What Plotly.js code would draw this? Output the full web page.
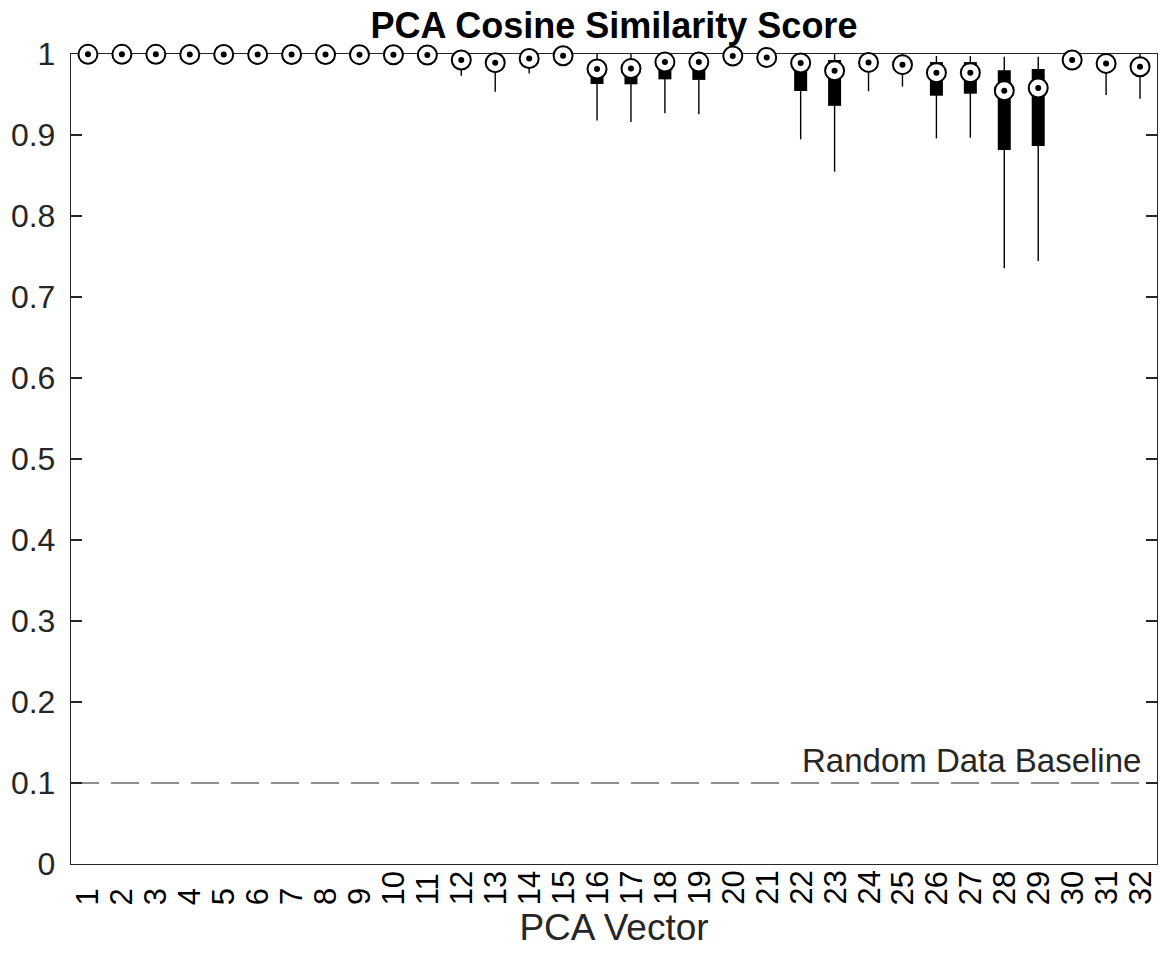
<!DOCTYPE html>
<html>
<head>
<meta charset="utf-8">
<script src="https://cdn.plot.ly/plotly-3.0.1.min.js"></script>
<style>
  html, body { margin: 0; padding: 0; background: #ffffff; }
  #chart { width: 1161px; height: 958px; }
</style>
</head>
<body>
<div id="chart"></div>
<script>
// PCA vector index (1..32)
const vectors = Array.from({length: 32}, (_, i) => i + 1);
const tickLabels = vectors.map(String);

// Box-plot statistics of the cosine similarity score for each PCA vector
const medians = [0.9996, 0.9996, 0.9996, 0.9995, 0.9995, 0.9995, 0.9994, 0.9993, 0.9992, 0.9991, 0.9988,
                 0.9926, 0.9893, 0.9944, 0.9978, 0.9815, 0.9820, 0.9900, 0.9900, 0.9975, 0.9958,
                 0.9889, 0.9794, 0.9896, 0.9868, 0.9770, 0.9770, 0.9547, 0.9580, 0.9926, 0.9884, 0.9843];
const q1 = [0.9993, 0.9993, 0.9992, 0.9991, 0.9991, 0.9990, 0.9989, 0.9988, 0.9987, 0.9985, 0.9982,
            0.9880, 0.9840, 0.9900, 0.9960, 0.9630, 0.9626, 0.9687, 0.9680, 0.9960, 0.9930,
            0.9543, 0.9360, 0.9820, 0.9780, 0.9485, 0.9510, 0.8815, 0.8864, 0.9890, 0.9800, 0.9760];
const q3 = [0.9998, 0.9998, 0.9998, 0.9998, 0.9997, 0.9997, 0.9997, 0.9996, 0.9996, 0.9995, 0.9994,
            0.9960, 0.9940, 0.9970, 0.9990, 0.9910, 0.9910, 0.9960, 0.9960, 0.9990, 0.9980,
            0.9960, 0.9926, 0.9950, 0.9940, 0.9900, 0.9900, 0.9800, 0.9815, 0.9960, 0.9940, 0.9910];
const whiskerLow = [0.9988, 0.9987, 0.9986, 0.9985, 0.9984, 0.9983, 0.9982, 0.9980, 0.9978, 0.9975, 0.9970,
                    0.9730, 0.9535, 0.9760, 0.9920, 0.9180, 0.9160, 0.9267, 0.9255, 0.9910, 0.9880,
                    0.8946, 0.8547, 0.9540, 0.9597, 0.8958, 0.8966, 0.7354, 0.7444, 0.9800, 0.9494, 0.9448];
const whiskerHigh = [1.0, 1.0, 1.0, 1.0, 1.0, 1.0, 1.0, 1.0, 1.0, 1.0, 1.0,
                     1.0, 0.9990, 1.0, 1.0, 1.0, 1.0, 1.0, 1.0, 1.0, 1.0,
                     1.0, 1.0, 1.0, 1.0, 0.9975, 0.9975, 0.9967, 0.9967, 1.0, 1.0, 1.0];

// y-axis ticks
const yTickVals = [0, 0.1, 0.2, 0.3, 0.4, 0.5, 0.6, 0.7, 0.8, 0.9, 1];
const yTickText = ['0', '0.1', '0.2', '0.3', '0.4', '0.5', '0.6', '0.7', '0.8', '0.9', '1'];

// Reference level for similarity of random data
const baselineValue = 0.1;
const baselineLabel = 'Random Data Baseline';

// Build segment paths (x, y pairs separated by nulls) for whiskers and boxes
function segments(lo, hi) {
  const xs = [], ys = [];
  vectors.forEach((v, i) => {
    xs.push(v, v, null);
    ys.push(lo[i], hi[i], null);
  });
  return {xs, ys};
}
const whisk = segments(whiskerLow, whiskerHigh);
const boxes = segments(q1, q3);

const axisColor = '#262626';
const fontFamily = '"Liberation Sans", Arial, Helvetica, sans-serif';

const traces = [
  { // whiskers
    type: 'scatter', mode: 'lines', x: whisk.xs, y: whisk.ys,
    line: {color: '#000000', width: 1.4}, hoverinfo: 'skip', showlegend: false
  },
  { // interquartile boxes (compact style: thick bars)
    type: 'scatter', mode: 'lines', x: boxes.xs, y: boxes.ys,
    line: {color: '#000000', width: 13}, hoverinfo: 'skip', showlegend: false
  },
  { // median outer circle
    type: 'scatter', mode: 'markers', x: vectors, y: medians,
    marker: {symbol: 'circle', size: 19, color: '#ffffff', line: {color: '#000000', width: 2}},
    showlegend: false, cliponaxis: false
  },
  { // median centre dot
    type: 'scatter', mode: 'markers', x: vectors, y: medians,
    marker: {symbol: 'circle', size: 6, color: '#000000', line: {width: 0}},
    showlegend: false, cliponaxis: false, hoverinfo: 'skip'
  }
];

// Inline group labels: rotated, bottom-aligned below the axis
const groupLabels = vectors.map((v, i) => ({
  text: tickLabels[i], xref: 'x', x: v, yref: 'paper', y: 0,
  xanchor: 'center', yanchor: 'bottom', yshift: -42, textangle: -90,
  showarrow: false, borderpad: 0,
  font: {family: fontFamily, size: 31, color: '#000000'}
}));

const layout = {
  width: 1161, height: 958,
  margin: {l: 71, r: 4, t: 54, b: 94},
  paper_bgcolor: '#ffffff', plot_bgcolor: '#ffffff',
  font: {family: fontFamily, color: axisColor},
  showlegend: false,
  title: {
    text: '<b>PCA Cosine Similarity Score</b>',
    font: {family: fontFamily, size: 36, color: '#000000'},
    x: 0.5, xref: 'paper', xanchor: 'center',
    y: 0.974, yref: 'container', yanchor: 'middle'
  },
  xaxis: {
    range: [0.5, 32.5],
    showticklabels: false, ticks: '', showgrid: false, zeroline: false,
    showline: true, linecolor: axisColor, linewidth: 1.2, mirror: true,
    layer: 'below traces',
    title: {text: 'PCA Vector', font: {family: fontFamily, size: 37, color: axisColor}, standoff: 49}
  },
  yaxis: {
    range: [0, 1],
    tickmode: 'array', tickvals: yTickVals, ticktext: yTickText,
    ticks: 'inside', ticklen: 11, tickwidth: 1.2, tickcolor: axisColor,
    ticklabelstandoff: 8,
    showgrid: false, zeroline: false,
    showline: true, linecolor: axisColor, linewidth: 1.2, mirror: 'ticks',
    tickfont: {family: fontFamily, size: 32, color: axisColor},
    layer: 'below traces'
  },
  shapes: [{
    type: 'line', xref: 'paper', x0: 0, x1: 1, yref: 'y', y0: baselineValue, y1: baselineValue,
    line: {color: '#6b6b6b', width: 1.3, dash: '28px,12px'}, layer: 'below'
  }],
  annotations: groupLabels.concat([{
    text: baselineLabel, xref: 'paper', x: 0.987, xanchor: 'right',
    yref: 'y', y: baselineValue, yanchor: 'bottom', yshift: 2,
    showarrow: false, font: {family: fontFamily, size: 33, color: axisColor}
  }])
};

Plotly.newPlot('chart', traces, layout, {displayModeBar: false, staticPlot: true});
</script>
</body>
</html>
